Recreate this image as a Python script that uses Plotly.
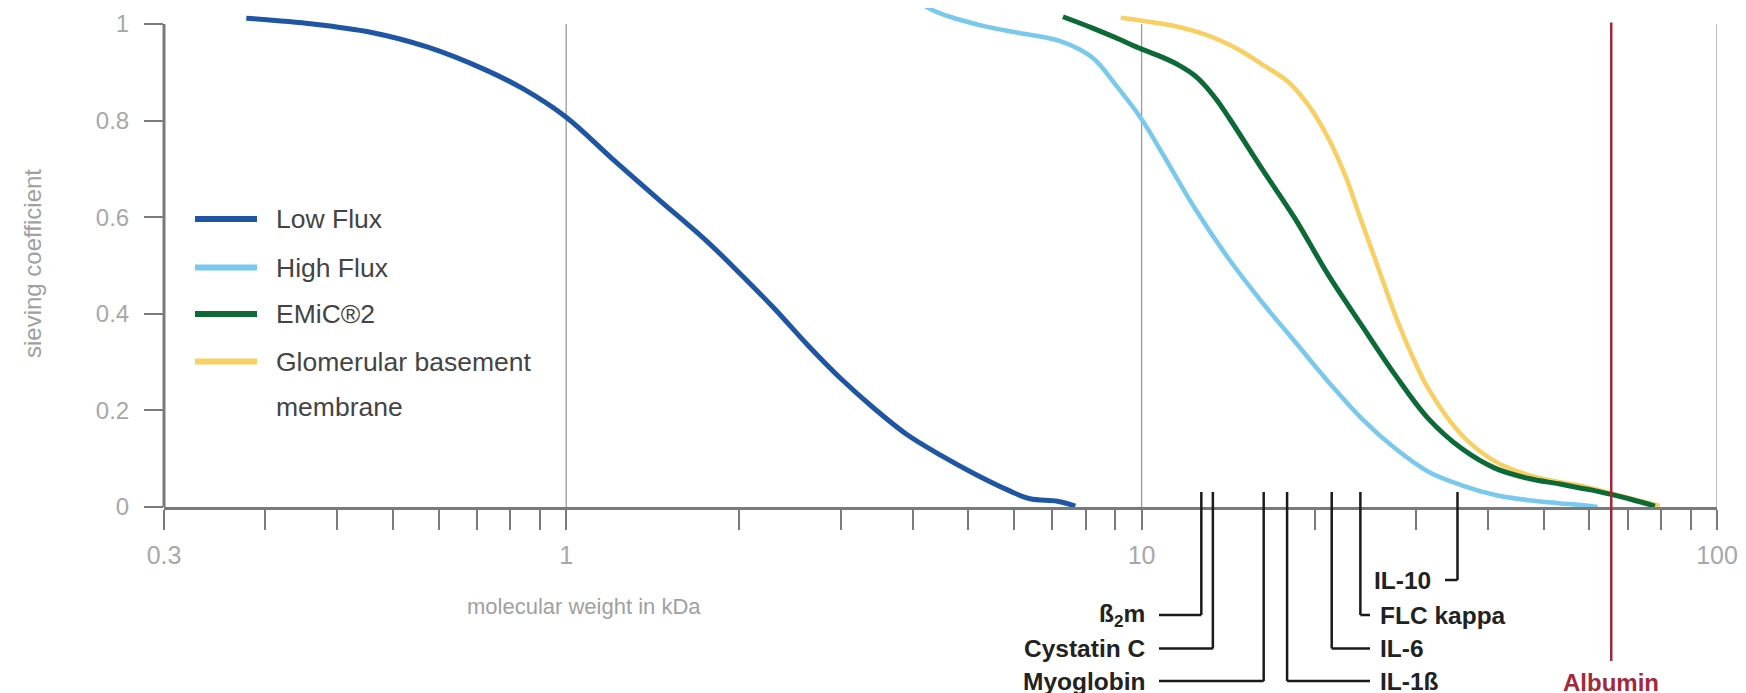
import math
import plotly.graph_objects as go

# ---------------- data ----------------
LOW_FLUX_KDA = [0.278, 0.363, 0.457, 0.575, 0.724, 0.844, 1.0, 1.2, 1.44, 1.76, 2.01, 2.30, 2.63, 3.0, 3.43, 3.92, 4.48, 5.12, 5.86, 6.4, 7.14, 7.67]
LOW_FLUX_SC = [1.012, 1.0, 0.983, 0.952, 0.905, 0.865, 0.807, 0.722, 0.639, 0.549, 0.482, 0.411, 0.335, 0.266, 0.204, 0.149, 0.107, 0.069, 0.035, 0.017, 0.012, 0.002]

HIGH_FLUX_KDA = [4.1, 4.4, 5.3, 6.1, 7.2, 8.2, 9.0, 10.0, 10.83, 12.38, 14.15, 16.17, 18.48, 21.12, 24.13, 27.6, 31.5, 36.0, 41.2, 47.1, 53.0, 58.0, 62.0]
HIGH_FLUX_SC = [1.045, 1.025, 0.996, 0.982, 0.965, 0.931, 0.875, 0.803, 0.735, 0.618, 0.515, 0.425, 0.342, 0.259, 0.183, 0.121, 0.073, 0.045, 0.025, 0.014, 0.008, 0.004, 0.0]

EMIC2_KDA = [7.3, 8.2, 9.0, 10.0, 10.83, 11.6, 12.38, 12.9, 13.5, 14.15, 16.17, 18.48, 21.12, 24.13, 27.6, 31.5, 36.0, 41.2, 47.1, 53.1, 57.5, 60.7, 65.5, 71.3, 78.0]
EMIC2_SC = [1.015, 0.992, 0.972, 0.948, 0.932, 0.915, 0.893, 0.872, 0.843, 0.808, 0.701, 0.597, 0.48, 0.376, 0.273, 0.183, 0.121, 0.08, 0.059, 0.048, 0.04, 0.035, 0.026, 0.015, 0.002]

GBM_KDA = [9.2, 10.0, 11.4, 13.0, 14.15, 15.1, 16.17, 17.99, 19.49, 21.12, 22.58, 24.13, 25.8, 27.6, 29.5, 31.5, 36.0, 41.2, 47.1, 53.1, 57.5, 65.5, 73.2, 79.5]
GBM_SC = [1.013, 1.007, 0.996, 0.977, 0.958, 0.940, 0.917, 0.88, 0.832, 0.763, 0.687, 0.59, 0.494, 0.397, 0.314, 0.245, 0.149, 0.094, 0.066, 0.052, 0.045, 0.028, 0.013, 0.002]

SERIES_NAMES = ["Low Flux", "High Flux", "EMiC®2", "Glomerular basement", "membrane"]

MARKER_NAMES = ["ß<sub>2</sub>m", "Cystatin C", "Myoglobin", "IL-1ß", "IL-6", "FLC kappa", "IL-10"]
MARKER_KDA = [12.7, 13.3, 16.3, 17.9, 21.4, 24.0, 35.4]
ALBUMIN_NAME = "Albumin"
ALBUMIN_KDA = 65.5

X_TICK_VALS = [0.2, 1, 10, 100]
X_TICK_TEXT = ["0.3", "1", "10", "100"]
X_MINOR_VALS = [0.3, 0.4, 0.5, 0.6, 0.7, 0.8, 0.9, 2, 3, 4, 5, 6, 7, 8, 9, 20, 30, 40, 50, 60, 70, 80, 90]
Y_TICK_VALS = [0, 0.2, 0.4, 0.6, 0.8, 1]
Y_TICK_TEXT = ["0", "0.2", "0.4", "0.6", "0.8", "1"]
GRID_X = [1, 10, 100]
X_TITLE = "molecular weight in kDa"
Y_TITLE = "sieving coefficient"

# ---------------- layout / style ----------------
FIG_W, FIG_H = 1746, 693
L, R_PX = 156, 1709
W = R_PX - L
T = 0
H = 499
Y_TOP_PX = 16
YMAX = H / (H - Y_TOP_PX)
XMIN_LOG, XMAX_LOG = math.log10(0.2), 2.0

FONT = "Liberation Sans, Arial, Helvetica, sans-serif"
AXIS_COL = "#7a7a7a"
TICKLBL_COL = "#a8a8a8"
C_LOW, C_HIGH, C_EMIC, C_GBM = "#1f56a3", "#79c9ec", "#0b6a35", "#f7cf63"
ALB_COL = "#a3293a"


def px_x(px):
    return (px - L) / W


def px_y(py):
    return (T + H - py) / H


def px_to_kda(px):
    return 10 ** (XMIN_LOG + (px - L) / W * (XMAX_LOG - XMIN_LOG))


fig = go.Figure()

curves = [
    (LOW_FLUX_KDA, LOW_FLUX_SC, C_LOW, 5, SERIES_NAMES[0]),
    (HIGH_FLUX_KDA, HIGH_FLUX_SC, C_HIGH, 4.5, SERIES_NAMES[1]),
    (GBM_KDA, GBM_SC, C_GBM, 4.5, SERIES_NAMES[3]),
    (EMIC2_KDA, EMIC2_SC, C_EMIC, 5, SERIES_NAMES[2]),
]
for xs, ys, col, wdt, nm in curves:
    fig.add_trace(go.Scatter(x=xs, y=ys, mode="lines", name=nm, showlegend=False,
                             line=dict(color=col, width=wdt, shape="spline", smoothing=1.0),
                             hoverinfo="skip"))

shapes = []
annotations = []

# vertical grid lines
for g in GRID_X:
    shapes.append(dict(type="line", xref="x", yref="y", x0=g, x1=g, y0=0, y1=1.0,
                       line=dict(color="#9a9a9a", width=1.3), layer="below"))
# y axis line (0..1)
shapes.append(dict(type="line", xref="paper", yref="y", x0=0, x1=0, y0=0, y1=1.0,
                   line=dict(color=AXIS_COL, width=3)))

# albumin line
shapes.append(dict(type="line", xref="x", yref="paper", x0=ALBUMIN_KDA, x1=ALBUMIN_KDA,
                   y0=px_y(14.5), y1=px_y(653), line=dict(color=ALB_COL, width=2.5)))
annotations.append(dict(x=math.log10(ALBUMIN_KDA), y=px_y(674), xref="x", yref="paper",
                        text="<b>%s</b>" % ALBUMIN_NAME, showarrow=False, xanchor="center",
                        yanchor="middle", font=dict(family=FONT, size=24, color=ALB_COL)))

# marker labels
MARKER_SIDE = ["left", "left", "left", "right", "right", "right", "left"]
MARKER_ROW_PX = [607, 640.5, 673, 673, 640.5, 607, 572]
LEADER_END_PX = [1151, 1151, 1151, 1362, 1362, 1362, 1437]
MARK_TOP_PX = 484
for nm, kda, side, row, lend in zip(MARKER_NAMES, MARKER_KDA, MARKER_SIDE, MARKER_ROW_PX, LEADER_END_PX):
    shapes.append(dict(type="line", xref="x", yref="paper", x0=kda, x1=kda,
                       y0=px_y(MARK_TOP_PX), y1=px_y(row), line=dict(color="#1a1a1a", width=2.5)))
    shapes.append(dict(type="line", xref="x", yref="paper", x0=kda, x1=px_to_kda(lend),
                       y0=px_y(row), y1=px_y(row), line=dict(color="#1a1a1a", width=2.5)))
    if side == "left":
        annotations.append(dict(x=px_x(lend - 12), y=px_y(row), xref="paper", yref="paper",
                                text="<b>%s</b>" % nm, showarrow=False, xanchor="right", yanchor="middle",
                                font=dict(family=FONT, size=24.5, color="#222222")))
    else:
        annotations.append(dict(x=px_x(lend + 8), y=px_y(row), xref="paper", yref="paper",
                                text="<b>%s</b>" % nm, showarrow=False, xanchor="left", yanchor="middle",
                                font=dict(family=FONT, size=24.5, color="#222222")))

# manual legend
LEG_ROWS_PX = [211, 259.5, 306, 353.5]
LEG_COLS = [C_LOW, C_HIGH, C_EMIC, C_GBM]
for i, (row, col) in enumerate(zip(LEG_ROWS_PX, LEG_COLS)):
    shapes.append(dict(type="line", xref="paper", yref="paper", x0=px_x(187), x1=px_x(249),
                       y0=px_y(row), y1=px_y(row), line=dict(color=col, width=6)))
    annotations.append(dict(x=px_x(266), y=px_y(row), xref="paper", yref="paper", text=SERIES_NAMES[i],
                            showarrow=False, xanchor="left", yanchor="middle",
                            font=dict(family=FONT, size=26.5, color="#444444")))
annotations.append(dict(x=px_x(266), y=px_y(399), xref="paper", yref="paper", text=SERIES_NAMES[4],
                        showarrow=False, xanchor="left", yanchor="middle",
                        font=dict(family=FONT, size=26.5, color="#444444")))

# axis titles
annotations.append(dict(x=px_x(24), y=px_y(256), xref="paper", yref="paper", text=Y_TITLE, textangle=-90,
                        showarrow=False, xanchor="center", yanchor="middle",
                        font=dict(family=FONT, size=24, color="#a0a0a0")))
annotations.append(dict(x=px_x(576), y=px_y(598), xref="paper", yref="paper", text=X_TITLE,
                        showarrow=False, xanchor="center", yanchor="middle",
                        font=dict(family=FONT, size=22, color="#a0a0a0")))

fig.update_layout(
    width=FIG_W, height=FIG_H,
    margin=dict(l=L, r=FIG_W - R_PX, t=T, b=FIG_H - T - H, autoexpand=False),
    paper_bgcolor="white", plot_bgcolor="white",
    showlegend=False,
    shapes=shapes, annotations=annotations,
    xaxis=dict(type="log", range=[XMIN_LOG, XMAX_LOG], showgrid=False, zeroline=False,
               showline=True, linecolor=AXIS_COL, linewidth=3,
               tickmode="array", tickvals=X_TICK_VALS, ticktext=X_TICK_TEXT,
               ticks="outside", ticklen=20, tickwidth=1.5, tickcolor=AXIS_COL,
               ticklabelstandoff=4,
               tickfont=dict(family=FONT, size=25, color=TICKLBL_COL),
               minor=dict(tickmode="array", tickvals=X_MINOR_VALS, ticks="outside", ticklen=20,
                          tickwidth=1.5, tickcolor=AXIS_COL, showgrid=False)),
    yaxis=dict(range=[0, YMAX], showgrid=False, zeroline=False, showline=False,
               tickmode="array", tickvals=Y_TICK_VALS, ticktext=Y_TICK_TEXT,
               ticks="outside", ticklen=19, tickwidth=2, tickcolor=AXIS_COL,
               ticklabelstandoff=10,
               tickfont=dict(family=FONT, size=24, color=TICKLBL_COL)),
)

fig.write_html("out.html")
